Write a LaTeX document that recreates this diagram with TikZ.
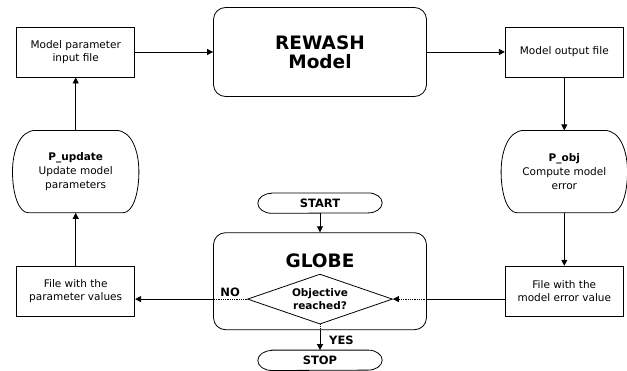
\documentclass[tikz,border=0pt]{standalone}
\usepackage{fontspec}
\setmainfont{DejaVu Sans}
\usetikzlibrary{arrows.meta,positioning,shapes.geometric,calc}

\begin{document}
\begin{tikzpicture}[
  x=1pt, y=1pt,
  font=\fontsize{10.5}{13}\selectfont,
  filebox/.style={draw, line width=0.8pt, align=center, minimum width=118pt, minimum height=50pt, inner sep=2pt},
  bigbox/.style={draw, line width=0.8pt, rounded corners=12pt, minimum width=213pt, align=center},
  procbox/.style={align=center, minimum width=126pt, minimum height=82pt, font=\fontsize{10.5}{14}\selectfont},
  termbox/.style={minimum width=124pt, minimum height=20pt, inner sep=0pt, font=\bfseries\fontsize{11.5}{13}\selectfont},
  decide/.style={draw, line width=0.8pt, diamond, aspect=2.9, minimum width=145pt, minimum height=50pt, inner sep=1pt, align=center, font=\bfseries\fontsize{10.5}{13}\selectfont},
  lbl/.style={inner sep=0pt, font=\bfseries\fontsize{11.5}{13}\selectfont},
  arr/.style={-{Triangle[length=6pt,width=6pt]}, line width=0.8pt},
  dots/.style={densely dotted, line width=0.8pt}
]
\useasboundingbox (0,0) rectangle (627,-370);

% top row
\node[bigbox, minimum height=89pt, font=\bfseries\fontsize{18.5}{19}\selectfont] (rewash) at (320,-52) {REWASH\\Model};
\node[filebox, left=78pt of rewash] (input) {Model parameter\\input file};
\node[filebox, right=78pt of rewash] (output) {Model output file};

% side columns
\node[procbox, below=53pt of output] (pobj) {\textbf{P\_obj}\\Compute model\\error};
\node[filebox, below=53pt of pobj] (errfile) {File with the\\model error value};
\node[procbox, below=53pt of input] (pupd) {\textbf{P\_update}\\Update model\\parameters};
\node[filebox, below=53pt of pupd] (parfile) {File with the\\parameter values};

\foreach \n in {pupd,pobj}
  \draw[line width=0.8pt] ($(\n.north west)+(23,0)$) -- ($(\n.north east)+(-23,0)$)
    .. controls +(16,0) and +(0,20) .. (\n.east)
    .. controls +(0,-22) and +(10,0) .. ($(\n.south east)+(-16,0)$)
    -- ($(\n.south west)+(16,0)$)
    .. controls +(-10,0) and +(0,-22) .. (\n.west)
    .. controls +(0,20) and +(-16,0) .. ($(\n.north west)+(23,0)$);

% optimiser
\node[termbox, below=96pt of rewash] (start) {START};
\node[bigbox, minimum height=97pt, below=19pt of start] (globe) {};
\node[inner sep=0pt, font=\bfseries\fontsize{18.5}{19}\selectfont, below=21pt of globe.north] (gtitle) {GLOBE};
\node[decide, below=6pt of gtitle] (diam) {Objective\\reached?};
\node[termbox, below=20pt of globe] (stop) {STOP};

\foreach \n in {start,stop}
  \draw[line width=0.8pt] ($(\n.north west)+(14,0)$) -- ($(\n.north east)+(-14,0)$)
    arc[start angle=90, end angle=-90, x radius=14, y radius=10]
    -- ($(\n.south west)+(14,0)$)
    arc[start angle=270, end angle=90, x radius=14, y radius=10] -- cycle;

\coordinate (inL) at (globe.west |- diam.west);
\coordinate (inR) at (globe.east |- diam.east);

\draw[arr] (input) -- (rewash);
\draw[arr] (rewash) -- (output);
\draw[arr] (output) -- (pobj);
\draw[arr] (pobj) -- (errfile);
\draw[arr] (parfile) -- (pupd);
\draw[arr] (pupd) -- (input);
\draw[arr] (start) -- (globe);

\draw (errfile.west |- inR) -- (inR);
\draw[arr, dots] (inR) -- (diam.east);
\draw[dots] (diam.west) -- (inL);
\draw[arr] (inL) -- (inL -| parfile.east);
\draw[dots] (diam.south) -- (globe.south);
\draw[arr] (globe.south) -- (stop);

\path (diam.west) -- (inL) node[lbl, midway, above=2pt] {NO};
\path (globe.south) -- (stop.north) node[lbl, midway, right=9pt] {YES};
\end{tikzpicture}
\end{document}
